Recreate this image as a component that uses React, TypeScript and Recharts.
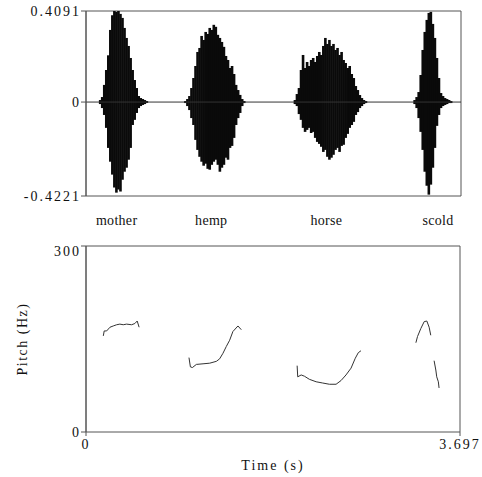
import React from 'react';
import {
  ComposedChart,
  LineChart,
  Bar,
  Line,
  XAxis,
  YAxis,
  ReferenceLine,
  ReferenceArea,
} from 'recharts';

const FONT = '"Liberation Serif", "Times New Roman", serif';
const T_END = 3.697;
const AMP_MIN = -0.4221;
const AMP_MAX = 0.4091;
const ampTicks = [AMP_MIN, 0, AMP_MAX];
const pitchTicks = [0, 300];
const timeTicks = [0, T_END];

// word labels under the waveform
const wordLabels = ['mother', 'hemp', 'horse', 'scold'];
const wordCenters = [0.302, 1.235, 2.369, 3.47];

// waveform envelopes (sampled every WAVE_STEP seconds from each word start)
const WAVE_STEP = 0.02;
const wordStarts = [0.14, 0.98, 2.06, 3.24];

const motherHi = [0.009, 0.0225, 0.077, 0.144, 0.21, 0.324, 0.39, 0.409, 0.405, 0.409, 0.396, 0.378, 0.333, 0.288, 0.252, 0.198, 0.144, 0.099, 0.063, 0.027, 0.018, 0.0135, 0.009, 0.0045];
const motherLo = [-0.009, -0.027, -0.058, -0.116, -0.206, -0.268, -0.326, -0.384, -0.407, -0.393, -0.402, -0.349, -0.313, -0.295, -0.259, -0.206, -0.103, -0.08, -0.049, -0.027, -0.018, -0.013, -0.009, -0.004];

const hempHi = [0.0045, 0.0135, 0.027, 0.063, 0.108, 0.162, 0.225, 0.243, 0.297, 0.279, 0.315, 0.306, 0.333, 0.324, 0.347, 0.338, 0.302, 0.288, 0.27, 0.248, 0.207, 0.189, 0.153, 0.162, 0.126, 0.077, 0.054, 0.032, 0.0135, 0.0045];
const hempLo = [-0.0045, -0.018, -0.036, -0.072, -0.103, -0.17, -0.215, -0.246, -0.268, -0.286, -0.277, -0.3, -0.304, -0.282, -0.268, -0.259, -0.282, -0.313, -0.295, -0.282, -0.25, -0.259, -0.206, -0.197, -0.161, -0.103, -0.072, -0.049, -0.018, -0.0045];

const horseHi = [0.009, 0.036, 0.063, 0.144, 0.2115, 0.153, 0.18, 0.162, 0.189, 0.198, 0.18, 0.207, 0.225, 0.2115, 0.252, 0.288, 0.261, 0.279, 0.252, 0.261, 0.234, 0.243, 0.2115, 0.225, 0.189, 0.1755, 0.153, 0.162, 0.126, 0.108, 0.072, 0.054, 0.0315, 0.018, 0.009, 0.0045];
const horseLo = [-0.009, -0.018, -0.054, -0.08, -0.116, -0.134, -0.125, -0.116, -0.139, -0.134, -0.161, -0.179, -0.188, -0.201, -0.224, -0.215, -0.246, -0.259, -0.25, -0.237, -0.215, -0.206, -0.224, -0.197, -0.192, -0.161, -0.143, -0.116, -0.103, -0.089, -0.058, -0.045, -0.027, -0.018, -0.009, -0.0045];

const scoldHi = [0.009, 0.0225, 0.045, 0.1215, 0.234, 0.315, 0.369, 0.4005, 0.405, 0.351, 0.288, 0.198, 0.108, 0.0405, 0.027, 0.018, 0.0135, 0.009, 0.0045];
const scoldLo = [-0.009, -0.027, -0.072, -0.134, -0.215, -0.313, -0.376, -0.416, -0.371, -0.295, -0.206, -0.107, -0.058, -0.027, -0.018, -0.013, -0.009, -0.0045, -0.0045];

// pitch contours
const motherPitchT = [0.171, 0.18, 0.204, 0.237, 0.269, 0.303, 0.335, 0.368, 0.401, 0.451, 0.483, 0.506, 0.525];
const motherPitchHz = [155, 163, 163, 169, 171, 173, 174, 173, 174, 173, 175, 179, 169];
const hempPitchT = [1.018, 1.032, 1.052, 1.091, 1.157, 1.223, 1.289, 1.321, 1.354, 1.387, 1.42, 1.452, 1.502, 1.535];
const hempPitchHz = [120, 105, 104, 109, 110, 111, 114, 118, 127, 138, 148, 162, 171, 165];
const horsePitchT = [2.087, 2.093, 2.127, 2.159, 2.208, 2.275, 2.34, 2.406, 2.472, 2.521, 2.57, 2.62, 2.662, 2.692, 2.718];
const horsePitchHz = [107, 89, 92, 90, 85, 81, 79, 77, 77, 83, 92, 103, 119, 128, 131];
const scoldPitchT1 = [3.261, 3.277, 3.31, 3.343, 3.369, 3.392, 3.408];
const scoldPitchHz1 = [144, 154, 167, 178, 179, 169, 156];
const scoldPitchT2 = [3.441, 3.458, 3.467, 3.483, 3.49];
const scoldPitchHz2 = [115, 100, 89, 81, 71];

const waveWords = [
  { start: wordStarts[0], hi: motherHi, lo: motherLo },
  { start: wordStarts[1], hi: hempHi, lo: hempLo },
  { start: wordStarts[2], hi: horseHi, lo: horseLo },
  { start: wordStarts[3], hi: scoldHi, lo: scoldLo },
];

const waveData = waveWords.flatMap((w) =>
  w.hi.map((h, i) => ({
    t: Math.round((w.start + i * WAVE_STEP) * 1000) / 1000,
    range: [w.lo[i], h],
  }))
);

const pitchSegments = [
  [motherPitchT, motherPitchHz],
  [hempPitchT, hempPitchHz],
  [horsePitchT, horsePitchHz],
  [scoldPitchT1, scoldPitchHz1],
  [scoldPitchT2, scoldPitchHz2],
].map(([ts, hz]) => ts.map((t, i) => ({ t, hz: hz[i] })));

const FRAME = '#555';
const TEXT = '#111';
const SPIKE_W = 2.6;

const numTick = { fontSize: 14, fill: TEXT, fontFamily: FONT, letterSpacing: 2 } as any;

const WaveSpike = (p: any) => {
  if (p.height == null || p.y == null) return null;
  const cx = p.x + (p.width || 0) / 2;
  const y = Math.min(p.y, p.y + p.height);
  const h = Math.abs(p.height);
  return <rect x={cx - SPIKE_W / 2} y={y} width={SPIKE_W} height={h} fill="#0a0a0a" />;
};

const PitchYTick = (p: any) => {
  const v = p.payload.value;
  return (
    <text
      x={p.x}
      y={p.y}
      dy={v === 300 ? 10 : 5}
      textAnchor="end"
      fontSize={14}
      fontFamily={FONT}
      fill={TEXT}
      style={{ letterSpacing: '2px' }}
    >
      {String(v)}
    </text>
  );
};

const PitchLabel = (props: any) => {
  const vb = props.viewBox || { x: 0, y: 0, width: 86, height: 186 };
  const cy = vb.y + vb.height / 2;
  return (
    <text
      transform={`translate(27,${cy}) rotate(-90)`}
      textAnchor="middle"
      fontSize={14}
      fontFamily={FONT}
      fill={TEXT}
      style={{ letterSpacing: '1.5px' }}
    >
      Pitch (Hz)
    </text>
  );
};

export default function App() {
  return (
    <div style={{ position: 'absolute', left: 0, top: 0, width: 482, height: 477, background: '#fff' }}>
      <div style={{ position: 'absolute', left: 0, top: 0 }}>
        <ComposedChart
          width={482}
          height={235}
          data={waveData}
          barGap={0}
          barCategoryGap={0}
          margin={{ top: 11, right: 21, bottom: 0, left: 0 }}
        >
          <XAxis
            type="number"
            dataKey="t"
            domain={[0, T_END]}
            allowDataOverflow
            ticks={wordCenters}
            interval={0}
            tickFormatter={(v: number) => wordLabels[wordCenters.indexOf(v)] ?? ''}
            axisLine={false}
            tickLine={false}
            tickSize={6}
            tickMargin={13}
            height={39}
            tick={{ fontSize: 14, fill: TEXT, fontFamily: FONT, letterSpacing: 0.3 } as any}
          />
          <YAxis
            type="number"
            domain={[AMP_MIN, AMP_MAX]}
            allowDataOverflow
            ticks={ampTicks}
            interval={0}
            width={86}
            tickSize={5}
            tickMargin={0}
            axisLine={{ stroke: FRAME }}
            tickLine={{ stroke: FRAME }}
            tick={numTick}
            tickFormatter={(v: number) => String(v)}
          />
          <ReferenceArea
            x1={0}
            x2={T_END}
            y1={AMP_MIN}
            y2={AMP_MAX}
            fill="none"
            fillOpacity={0}
            stroke={FRAME}
            strokeWidth={1}
            ifOverflow="visible"
          />
          <ReferenceLine y={0} stroke="#333" strokeWidth={1} />
          <Bar dataKey="range" fill="#0a0a0a" barSize={2} shape={WaveSpike} isAnimationActive={false} />
        </ComposedChart>
      </div>
      <div style={{ position: 'absolute', left: 0, top: 235 }}>
        <LineChart width={482} height={242} margin={{ top: 11, right: 22, bottom: 0, left: 0 }}>
          <XAxis
            type="number"
            dataKey="t"
            domain={[0, T_END]}
            allowDataOverflow
            ticks={timeTicks}
            interval={0}
            tickFormatter={(v: number) => (v === 0 ? '0' : String(T_END))}
            axisLine={false}
            tickLine={{ stroke: FRAME }}
            tickSize={4}
            tickMargin={3}
            height={45}
            tick={numTick}
            label={{
              value: 'Time (s)',
              position: 'insideBottom',
              offset: 7,
              fontSize: 14,
              fontFamily: FONT,
              fill: TEXT,
              style: { letterSpacing: '2px' },
            } as any}
          />
          <YAxis
            type="number"
            domain={[0, 300]}
            allowDataOverflow
            ticks={pitchTicks}
            interval={0}
            width={86}
            tickSize={5}
            tickMargin={0}
            axisLine={{ stroke: FRAME }}
            tickLine={{ stroke: FRAME }}
            tick={PitchYTick}
            label={{ content: PitchLabel } as any}
          />
          <ReferenceArea
            x1={0}
            x2={T_END}
            y1={0}
            y2={300}
            fill="none"
            fillOpacity={0}
            stroke={FRAME}
            strokeWidth={1}
            ifOverflow="visible"
          />
          {pitchSegments.map((seg, i) => (
            <Line
              key={i}
              data={seg}
              dataKey="hz"
              type="linear"
              stroke="#333"
              strokeWidth={1}
              dot={false}
              isAnimationActive={false}
            />
          ))}
        </LineChart>
      </div>
    </div>
  );
}
